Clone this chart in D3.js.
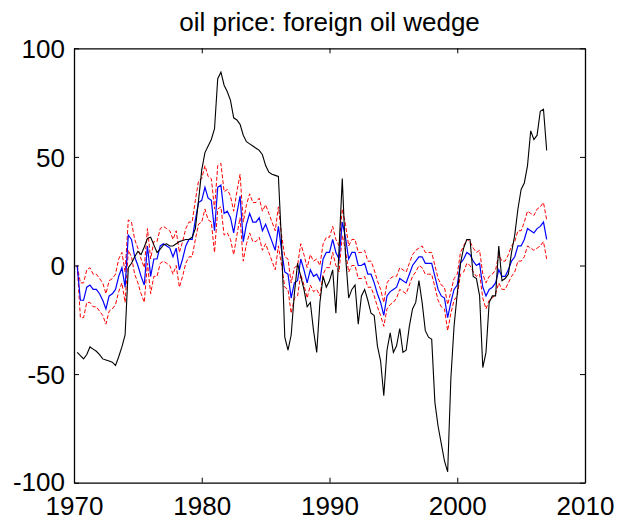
<!DOCTYPE html>
<html><head><meta charset="utf-8">
<script src="https://cdn.jsdelivr.net/npm/d3@7"></script>
<style>
html,body{margin:0;padding:0;background:#fff;}
svg text{font-family:"Liberation Sans",Arial,Helvetica,sans-serif;fill:#000;}
</style></head>
<body><svg id="chart" width="632" height="527"></svg>
<script>
const title = "oil price: foreign oil wedge";
const xTicks = [1970, 1980, 1990, 2000, 2010];
const yTicks = [-100, -50, 0, 50, 100];
// quarterly observations 1970Q2 .. 2007Q1
const startYear = 1970;
const oilWedge = [-40,-41.5,-43,-41,-37.5,-38.5,-39.5,-41,-43,-43.5,-44,-44.5,-46,-42,-37.5,-32,-1,1,4,6.5,
 5,8.5,12.5,13,9.5,6,7.5,9.5,10,9,9,10,11,11.5,12,12,13,17,30,44,
 52,55,58,63,86,89,83,80,76,68,67,65,60,57,56,55,54,53,51,46,
 43,42,41.5,41,10,-33,-39,-32,-13,1,-5,-11,-19,-17,-30,-40,-17,-5,-10,-7,
 -2,-22,8,40,5,-15,-11,-9,-27,-14,-11,-16,-22,-23,-37,-44,-60,-39,-31,-40,
 -37,-29,-40,-39,-28,-20,-17,-7,-17,-30,-33,-34,-63,-74,-82,-90,-95,-52,-28,-13,
 1,8,12,12,-5,-6,-14,-47,-40,-17,-14,-14,9,-7,-6,-4,6,14,26,35,
 38,46,62,58,60,71,72,53];
const median = [0,-16,-16,-10,-9,-11,-11,-13,-16,-20,-14,-13,-11,-5,-1,-10,14,12,4,0,
 -5,-9,9,-5,3,3,9,10,9,8,4,8,-2,3,9,12,12,21,29,30,
 36,31,30,16,36,37,24,25,22,15,24,32,11,19,24,20,20,22,16,19,
 15,11,7,18,7,-3,-4,-15,-8,-7,3,-2,-8,-2,-5,-4,-7,3,6,6,
 12,6,3,20,13,3,6,6,0,0,1,-4,-4,-8,-13,-17,-23,-14,-12,-11,
 -10,-6,-7,-8,-4,0,2,4,4,1,1,1,-5,-11,-14,-15,-24,-17,-11,-9,
 1,3,6,5,2,0,1,-10,-14,-11,-10,-8,-2,-5,-5,-2,2,4,9,9,
 12,17,16,15,17,18,20,12];
const upper = [0,-8,-8,-2,-1,-4,-4,-6,-8,-13,-7,-6,-4,3,6,-3,21,20,12,8,
 3,-1,17,3,11,11,17,18,17,16,12,16,6,11,17,20,20,30,39,40,
 46,41,40,26,46,47,34,35,32,25,34,42,20,28,33,29,29,31,25,28,
 24,20,16,27,14,4,3,-8,-1,0,10,5,-1,5,2,3,0,10,13,13,
 18,12,9,26,19,9,12,12,6,6,7,2,2,-2,-7,-11,-17,-8,-6,-5,
 -5,-1,-2,-3,1,5,7,8,9,6,6,6,0,-6,-9,-10,-18,-12,-6,-4,
 6,9,12,11,8,6,7,-4,-8,-5,-4,-2,5,2,2,5,9,11,16,16,
 20,25,24,23,26,27,29,21];
const lower = [0,-24,-24,-17,-17,-19,-19,-21,-23,-27,-21,-20,-18,-12,-8,-17,7,4,-4,-8,
 -13,-17,1,-13,-5,-5,1,2,1,0,-4,0,-10,-5,1,4,4,12,19,20,
 26,21,20,6,26,27,14,15,12,5,14,22,2,10,15,11,11,13,7,10,
 6,2,-2,9,0,-10,-11,-22,-15,-14,-4,-9,-15,-9,-12,-11,-14,-4,-1,-1,
 6,0,-3,14,7,-3,0,0,-6,-6,-5,-10,-10,-14,-19,-23,-28,-20,-18,-17,
 -15,-11,-12,-13,-9,-5,-3,0,-1,-4,-4,-4,-10,-16,-19,-20,-30,-22,-16,-14,
 -4,-3,1,0,-3,-5,-4,-15,-20,-16,-15,-13,-8,-11,-11,-8,-5,-3,2,2,
 4,9,8,7,8,9,11,3];

const dates = oilWedge.map((_, i) => startYear + (i + 1) / 4);

const svg = d3.select("#chart");
const L = 74, R = 585, T = 48.3, B = 482.7;
const x = d3.scaleLinear().domain([1970, 2010]).range([L, R]);
const y = d3.scaleLinear().domain([-100, 100]).range([B, T]);
const fs = 26;

const line = d3.line().x((d, i) => x(dates[i])).y(d => y(d));

const plot = svg.append("g");
plot.append("path").datum(upper).attr("d", line)
  .attr("fill", "none").attr("stroke", "#ff0000").attr("stroke-width", 1)
  .attr("stroke-dasharray", "4,2");
plot.append("path").datum(lower).attr("d", line)
  .attr("fill", "none").attr("stroke", "#ff0000").attr("stroke-width", 1)
  .attr("stroke-dasharray", "4,2");
plot.append("path").datum(median).attr("d", line)
  .attr("fill", "none").attr("stroke", "#0000ff").attr("stroke-width", 1.2);
plot.append("path").datum(oilWedge).attr("d", line)
  .attr("fill", "none").attr("stroke", "#000").attr("stroke-width", 1.1);

// axes (MATLAB box style, inward ticks on all sides)
const tl = 5;
const fmt = d => String(d);
const axB = svg.append("g").attr("transform", `translate(0,${B})`)
  .call(d3.axisBottom(x).tickValues(xTicks).tickSizeInner(-tl).tickSizeOuter(0).tickPadding(12).tickFormat(fmt));
const axT = svg.append("g").attr("transform", `translate(0,${T})`)
  .call(d3.axisTop(x).tickValues(xTicks).tickSizeInner(-tl).tickSizeOuter(0).tickFormat(""));
const axL = svg.append("g").attr("transform", `translate(${L},0)`)
  .call(d3.axisLeft(y).tickValues(yTicks).tickSizeInner(-tl).tickSizeOuter(0).tickPadding(9).tickFormat(fmt));
const axR = svg.append("g").attr("transform", `translate(${R},0)`)
  .call(d3.axisRight(y).tickValues(yTicks).tickSizeInner(-tl).tickSizeOuter(0).tickFormat(""));

[axB, axT, axL, axR].forEach(g => {
  g.select(".domain").attr("stroke", "#000").attr("stroke-width", 1.3);
  g.selectAll(".tick line").attr("stroke", "#000").attr("stroke-width", 1);
  g.selectAll("text").attr("font-size", fs).attr("font-family", "Liberation Sans, Arial, sans-serif").attr("fill", "#000");
});
axB.selectAll(".tick text").attr("dy", null).attr("y", 0).attr("transform", "translate(0,32.5)");
axL.selectAll(".tick text").attr("dy", "0.35em");
// keep the lowest y label clear of the first x label
axL.selectAll(".tick text").filter(d => d === -100).attr("dy", "0.3em");

svg.append("text").attr("x", (L + R) / 2).attr("y", 31)
  .attr("text-anchor", "middle").attr("font-size", fs).text(title);
</script></body></html>
